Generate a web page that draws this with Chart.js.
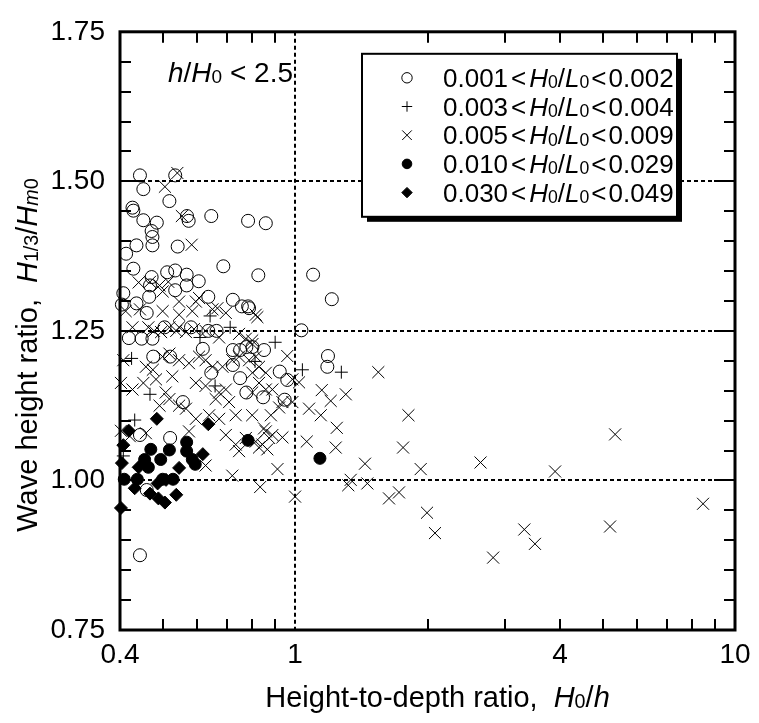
<!DOCTYPE html>
<html>
<head>
<meta charset="utf-8">
<script src="https://cdn.jsdelivr.net/npm/chart.js@4.4.1/dist/chart.umd.min.js"></script>
<style>
    html, body { margin: 0; padding: 0; background: #fff; }
</style>
</head>
<body>
<canvas id="grafico" width="759" height="723"></canvas>
<script>
// ============================
// DADOS
// ============================
const xTicks = [0.4, 1, 4, 10];
const yTicks = [0.75, 1.00, 1.25, 1.50, 1.75];
const xGrade = [1];
const yGrade = [1.00, 1.25, 1.50];

// faixas de H0/L0 da legenda
const faixaMin = ["0.001", "0.003", "0.005", "0.010", "0.030"];
const faixaMax = ["0.002", "0.004", "0.009", "0.029", "0.049"];

// 0.001 < H0/L0 < 0.002 (circulo aberto)
const circuloX = [0.444, 0.452, 0.534, 0.518, 0.427, 0.429, 0.452, 0.485, 0.472, 0.474,
    0.474, 0.436, 0.413, 0.541, 0.568, 0.573, 0.645, 0.782, 0.858, 0.687,
    0.825, 0.429, 0.407, 0.472, 0.512, 0.534, 0.567, 0.567, 0.604, 0.468,
    0.534, 0.466, 0.635, 0.722, 0.757, 0.782, 0.436, 0.404, 1.099, 1.212,
    1.034, 1.188, 1.184, 0.850, 0.923, 0.960, 0.846, 0.947, 0.786, 0.460,
    0.419, 0.448, 0.474, 0.505, 0.580, 0.635, 0.663, 0.722, 0.750, 0.775,
    0.800, 0.476, 0.520, 0.617, 0.645, 0.722, 0.750, 0.556, 0.775, 0.444,
    0.520, 0.460, 0.444];
const circuloY = [1.510, 1.487, 1.510, 1.467, 1.456, 1.451, 1.435, 1.431, 1.417, 1.407,
    1.393, 1.393, 1.379, 1.391, 1.442, 1.434, 1.442, 1.434, 1.430, 1.358,
    1.343, 1.354, 1.313, 1.340, 1.348, 1.351, 1.344, 1.326, 1.333, 1.326,
    1.318, 1.307, 1.307, 1.302, 1.291, 1.291, 1.296, 1.294, 1.344, 1.303,
    1.251, 1.208, 1.190, 1.218, 1.182, 1.168, 1.139, 1.135, 1.288, 1.280,
    1.238, 1.237, 1.237, 1.256, 1.256, 1.250, 1.250, 1.218, 1.218, 1.223,
    1.223, 1.207, 1.207, 1.220, 1.180, 1.193, 1.171, 1.131, 1.147, 1.076,
    1.071, 0.984, 0.875];

// 0.003 < H0/L0 < 0.004 (mais)
const maisX = [1.039, 1.274, 0.425, 0.468, 0.432, 0.641, 0.407, 0.608, 0.712, 0.811, 0.658, 0.901];
const maisY = [1.185, 1.181, 1.204, 1.144, 1.101, 1.275, 1.041, 1.239, 1.256, 1.199, 1.158, 1.231];

// 0.005 < H0/L0 < 0.009 (xis)
const xisX = [2.64, 3.90, 5.34, 8.46, 3.32, 3.51, 5.20,
    0.821, 1.546, 1.150, 1.304, 1.205, 1.076, 1.144, 1.244, 1.810, 1.063,
    1.237, 1.760, 1.442, 1.930, 1.338, 1.321, 1.460, 1.635, 1.723, 1.000,
    0.912, 0.833, 0.960, 0.986, 0.986, 1.021, 0.936, 0.920, 0.881, 0.850,
    0.873, 0.936, 0.843, 0.865, 0.814, 0.800, 0.814, 0.800, 0.828, 0.799,
    0.858, 0.888,
    1.995, 2.08, 2.82,
    0.506, 0.540, 0.553, 0.582, 0.441, 0.468, 0.492, 0.515, 0.500, 0.545,
    0.595, 0.605, 0.666,
    0.412, 0.444, 0.500, 0.545, 0.584, 0.649, 0.696, 0.814,
    0.427, 0.464, 0.478, 0.496, 0.518, 0.537, 0.545, 0.565, 0.589, 0.626,
    0.672, 0.746, 0.773, 0.799,
    0.407, 0.458, 0.475, 0.500, 0.518, 0.545, 0.574, 0.605, 0.626, 0.649,
    0.684, 0.720, 0.746, 0.786, 0.828, 0.858,
    0.402, 0.427, 0.508, 0.545, 0.565, 0.595, 0.660, 0.672, 0.696, 0.708,
    0.733, 0.746, 0.773, 0.828, 0.858, 0.888, 0.720, 0.626, 0.458, 0.574,
    0.452, 0.483, 0.526, 0.595, 0.626, 0.518, 0.492, 0.638, 0.672, 0.733,
    0.799, 0.696, 0.402, 0.421];
const xisY = [1.030, 1.015, 1.077, 0.961, 0.918, 0.894, 0.923,
    1.273, 1.181, 1.151, 1.144, 1.133, 1.120, 1.109, 1.088, 1.109, 1.065,
    1.055, 1.055, 1.028, 1.019, 1.001, 0.992, 0.995, 0.970, 0.980, 0.973,
    1.019, 0.989, 1.208, 1.131, 1.169, 1.164, 1.131, 1.122, 1.109, 1.087,
    1.071, 1.072, 1.060, 1.052, 1.065, 1.228, 1.207, 1.180, 1.163, 1.147,
    1.152, 1.152,
    0.946, 0.912, 0.871,
    1.491, 1.514, 1.442, 1.394, 1.331, 1.332, 1.326, 1.332, 1.316, 1.299,
    1.299, 1.305, 1.288,
    1.283, 1.286, 1.283, 1.277, 1.283, 1.286, 1.280, 1.277,
    1.256, 1.256, 1.250, 1.248, 1.256, 1.250, 1.256, 1.248, 1.253, 1.250,
    1.239, 1.245, 1.237, 1.234,
    1.201, 1.190, 1.185, 1.207, 1.212, 1.201, 1.196, 1.207, 1.201, 1.190,
    1.190, 1.201, 1.207, 1.201, 1.190, 1.180,
    1.163, 1.152, 1.147, 1.125, 1.120, 1.103, 1.136, 1.147, 1.152, 1.131,
    1.060, 1.049, 1.071, 1.055, 1.082, 1.076, 1.008, 1.025, 1.079, 1.082,
    1.163, 1.169, 1.174, 1.163, 1.158, 1.136, 1.125, 1.109, 1.103, 1.109,
    1.109, 1.076, 1.083, 1.074];

// 0.010 < H0/L0 < 0.029 (circulo cheio)
const pontoX = [0.782, 0.470, 0.518, 0.567, 0.567, 0.455, 0.495, 0.584, 0.593, 0.409, 0.438, 0.500, 0.528, 0.464, 1.139];
const pontoY = [1.067, 1.052, 1.051, 1.064, 1.049, 1.035, 1.035, 1.035, 1.027, 1.002, 1.002, 1.002, 1.002, 1.022, 1.037];

// 0.030 < H0/L0 < 0.049 (losango)
const losangoX = [0.485, 0.635, 0.419, 0.407, 0.404, 0.441, 0.545, 0.617, 0.487, 0.489, 0.537, 0.506, 0.402, 0.432, 0.468, 0.509];
const losangoY = [1.103, 1.094, 1.083, 1.059, 1.029, 1.022, 1.021, 1.044, 0.995, 0.970, 0.976, 0.963, 0.954, 0.987, 0.978, 1.001];

// ============================
// ESTILO
// ============================
const FONTE = '"Liberation Sans", Arial, Helvetica, sans-serif';
const TAM = 28;
Chart.defaults.font.family = FONTE;
Chart.defaults.color = "#000";

function pares(xs, ys) {
    return xs.map((x, i) => ({ x: x, y: ys[i] }));
}

const series = [
    { dados: pares(circuloX, circuloY), estilo: "circle", raio: 6.5, cheio: false, ordem: 3 },
    { dados: pares(maisX, maisY), estilo: "cross", raio: 6.5, cheio: false, ordem: 4 },
    { dados: pares(xisX, xisY), estilo: "crossRot", raio: 8.5, cheio: false, ordem: 5 },
    { dados: pares(pontoX, pontoY), estilo: "circle", raio: 6, cheio: true, ordem: 1 },
    { dados: pares(losangoX, losangoY), estilo: "rectRot", raio: 6.5, cheio: true, ordem: 2 }
];

// ============================
// TEXTO COM ITALICO / INDICE
// ============================
// partes: [texto, estilo] -> "n" normal, "i" italico, "s" pequeno, "si" pequeno italico; numero = espaco
function medeRico(ctx, partes, tam) {
    let w = 0;
    partes.forEach(p => {
        if (typeof p === "number") { w += p; return; }
        const peq = p[1].includes("s");
        ctx.font = (p[1].includes("i") ? "italic " : "") + (peq ? tam * 0.68 : tam) + "px " + FONTE;
        w += ctx.measureText(p[0]).width;
    });
    return w;
}

function desenhaRico(ctx, partes, x, y, tam) {
    let cx = x;
    partes.forEach(p => {
        if (typeof p === "number") { cx += p; return; }
        const peq = p[1].includes("s");
        ctx.font = (p[1].includes("i") ? "italic " : "") + (peq ? tam * 0.68 : tam) + "px " + FONTE;
        ctx.fillText(p[0], cx, y + (peq ? tam * 0.05 : 0));
        cx += ctx.measureText(p[0]).width;
    });
}

// ============================
// MOLDURA, TITULOS E LEGENDA
// ============================
const decoracao = {
    id: "decoracao",
    afterDraw(chart) {
        const ctx = chart.ctx;
        const { left, right, top, bottom } = chart.chartArea;
        const sx = chart.scales.x, sy = chart.scales.y;
        ctx.save();
        ctx.strokeStyle = "#000";
        ctx.fillStyle = "#000";

        // tracinhos para dentro
        ctx.lineWidth = 2;
        ctx.beginPath();
        for (let k = 0; k <= 20; k++) {
            const v = 0.75 + k * 0.05;
            const py = Math.round(sy.getPixelForValue(v));
            const len = (k % 5 === 0) ? 21 : 11;
            ctx.moveTo(left, py); ctx.lineTo(left + len, py);
            ctx.moveTo(right, py); ctx.lineTo(right - len, py);
        }
        [0.5, 0.6, 0.7, 0.8, 0.9, 2, 3, 4, 5, 6, 7, 8, 9].forEach(v => {
            const px = Math.round(sx.getPixelForValue(v));
            ctx.moveTo(px, bottom); ctx.lineTo(px, bottom - 11);
            ctx.moveTo(px, top); ctx.lineTo(px, top + 11);
        });
        ctx.stroke();

        // moldura
        ctx.lineWidth = 3;
        ctx.strokeRect(left, top, right - left, bottom - top);

        // titulo eixo x
        ctx.textBaseline = "alphabetic";
        ctx.textAlign = "left";
        const tamTit = 29;
        const tituloX = [["Height-to-depth ratio,", "n"], 16, ["H", "i"], ["0", "s"], ["/", "n"], ["h", "i"]];
        const wx = medeRico(ctx, tituloX, tamTit);
        desenhaRico(ctx, tituloX, (left + right) / 2 + 10 - wx / 2, 707, tamTit);

        // titulo eixo y
        const tituloY = [["Wave height ratio,", "n"], 16, ["H", "i"], ["1/3", "s"], ["/", "n"], ["H", "i"], ["m", "si"], ["0", "s"]];
        const wy = medeRico(ctx, tituloY, tamTit);
        ctx.save();
        ctx.translate(37, 355);
        ctx.rotate(-Math.PI / 2);
        desenhaRico(ctx, tituloY, -wy / 2, 0, tamTit);
        ctx.restore();

        // anotacao
        desenhaRico(ctx, [["h", "i"], ["/", "n"], ["H", "i"], ["0", "s"], [" < 2.5", "n"]], left + 48, 82, TAM);

        // legenda com sombra
        const lx = left + 242, ly = top + 22, lw = 315, lh = 163;
        ctx.fillRect(lx + 5, ly + 5, lw, lh);
        ctx.fillStyle = "#fff";
        ctx.fillRect(lx, ly, lw, lh);
        ctx.lineWidth = 2;
        ctx.strokeRect(lx, ly, lw, lh);

        const tamLeg = 26;
        series.forEach((s, i) => {
            const cy = ly + 24 + i * 28.7;
            ctx.lineWidth = 1;
            ctx.strokeStyle = "#000";
            ctx.fillStyle = s.cheio ? "#000" : "rgba(0,0,0,0)";
            Chart.helpers.drawPoint(ctx, { pointStyle: s.estilo, radius: s.raio * 0.8, borderWidth: 1, rotation: 0 }, lx + 45, cy);
            ctx.fillStyle = "#000";
            desenhaRico(ctx, [[faixaMin[i], "n"], 3, ["<", "n"], 3, ["H", "i"], ["0", "s"], ["/", "n"], ["L", "i"], ["0", "s"], 2, ["<", "n"], 2, [faixaMax[i], "n"]],
                lx + 81, cy + 9, tamLeg);
        });
        ctx.restore();
    }
};

// ============================
// GRAFICO
// ============================
const ctxGrafico = document.getElementById("grafico");

new Chart(ctxGrafico, {
    type: "scatter",
    data: {
        datasets: series.map(s => ({
            data: s.dados,
            pointStyle: s.estilo,
            pointRadius: s.raio,
            pointBorderWidth: 1,
            pointBorderColor: "#000",
            pointBackgroundColor: s.cheio ? "#000" : "rgba(0,0,0,0)",
            order: s.ordem,
            clip: false
        }))
    },
    options: {
        responsive: false,
        animation: false,
        devicePixelRatio: 1,
        layout: { padding: { top: 17, right: 24, left: 0, bottom: 0 } },
        plugins: {
            legend: { display: false },
            tooltip: { enabled: false }
        },
        scales: {
            x: {
                type: "logarithmic",
                min: 0.4,
                max: 10,
                afterBuildTicks: s => { s.ticks = xTicks.map(v => ({ value: v })); },
                afterFit: s => { s.height = 93; },
                ticks: {
                    autoSkip: false, maxRotation: 0, padding: 8, color: "#000",
                    font: { size: TAM },
                    callback: v => String(v)
                },
                grid: {
                    drawTicks: false,
                    lineWidth: 2,
                    color: c => (c.tick && xGrade.includes(c.tick.value)) ? "#000" : "rgba(0,0,0,0)"
                },
                border: { display: false, dash: [4, 3] }
            },
            y: {
                type: "linear",
                min: 0.75,
                max: 1.75,
                afterBuildTicks: s => { s.ticks = yTicks.map(v => ({ value: v })); },
                afterFit: s => { s.width = 120; },
                ticks: {
                    padding: 15, color: "#000",
                    font: { size: TAM },
                    callback: v => v.toFixed(2)
                },
                grid: {
                    drawTicks: false,
                    lineWidth: 2,
                    color: c => (c.tick && yGrade.includes(c.tick.value)) ? "#000" : "rgba(0,0,0,0)"
                },
                border: { display: false, dash: [4, 3] }
            }
        }
    },
    plugins: [decoracao]
});
</script>
</body>
</html>
